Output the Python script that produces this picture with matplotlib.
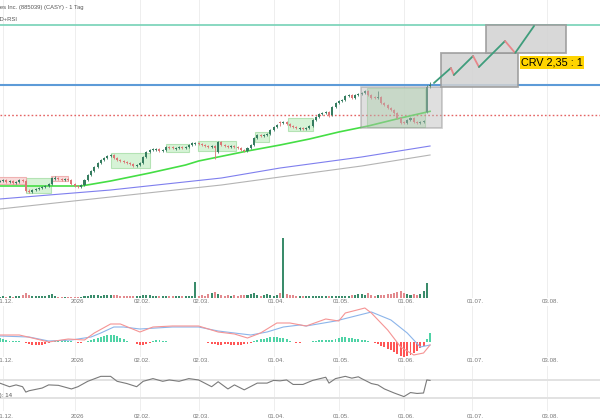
import numpy as np
import matplotlib.pyplot as plt
from matplotlib.patches import Rectangle

plt.rcParams['font.family'] = ['Liberation Sans', 'DejaVu Sans']

# ======================
# DATA
# ======================

first_day = -1  # trading-day index of first candle (0 = 01.12.2025)

opens = [
    591.0, 591.4, 592.0, 590.8, 591.4, 590.2, 590.8, 592.0, 591.4, 585.4,
    584.8, 586.0, 586.6, 587.2, 587.8, 588.4, 589.6, 592.6, 593.2, 592.6,
    592.0, 592.6, 592.0, 589.6, 588.4, 587.8, 589.0, 592.0, 595.0, 597.4,
    599.8, 602.2, 604.0, 605.2, 606.4, 607.0, 605.2, 604.0, 603.4, 602.8,
    602.2, 601.6, 600.4, 601.0, 602.2, 605.8, 608.8, 610.0, 610.0, 610.6,
    609.4, 610.0, 611.8, 611.8, 610.6, 611.2, 611.8, 611.2, 611.8, 613.0,
    613.6, 614.2, 613.6, 613.0, 612.4, 611.8, 612.4, 608.8, 614.8, 613.0,
    612.4, 611.8, 612.4, 611.8, 611.2, 610.0, 609.4, 611.2, 613.0, 617.2,
    619.0, 618.4, 619.0, 619.6, 622.0, 623.8, 626.8, 626.2, 626.8, 625.6,
    624.4, 623.8, 622.6, 623.2, 622.6, 623.2, 624.4, 628.0, 629.8, 631.6,
    632.2, 632.8, 631.0, 635.8, 638.2, 639.4, 640.0, 642.4, 643.0, 641.2,
    643.0, 643.6, 644.2, 645.4, 643.0, 641.8, 641.2, 641.8, 638.2, 637.0,
    635.2, 634.0, 632.2, 629.2, 626.8, 626.2, 628.0, 629.2, 626.8, 626.2,
    626.8, 632.8, 648.4]
highs = [
    592.2, 592.8, 592.6, 592.0, 592.0, 591.6, 592.8, 592.6, 592.2, 586.6,
    586.4, 587.2, 587.8, 588.4, 589.0, 590.2, 594.0, 594.2, 594.0, 593.2,
    593.4, 593.2, 592.6, 590.4, 589.2, 589.8, 592.6, 595.6, 598.0, 600.4,
    602.8, 604.6, 605.8, 607.0, 607.6, 607.4, 605.8, 604.6, 604.0, 603.4,
    602.8, 602.2, 601.6, 602.8, 606.4, 609.4, 610.6, 611.2, 611.2, 611.2,
    610.6, 612.4, 612.4, 612.4, 611.8, 612.4, 612.4, 612.4, 613.6, 614.8,
    614.8, 614.8, 614.2, 613.6, 613.0, 613.0, 613.0, 615.4, 615.4, 613.6,
    613.0, 613.0, 613.0, 612.4, 611.8, 610.6, 611.8, 613.6, 617.8, 619.6,
    619.6, 619.6, 620.2, 622.6, 624.4, 625.6, 627.2, 627.4, 627.4, 626.2,
    625.0, 624.4, 623.8, 623.8, 623.8, 625.0, 628.6, 630.4, 632.2, 632.8,
    633.4, 633.4, 636.4, 638.8, 640.0, 640.6, 643.0, 643.6, 643.6, 643.6,
    644.2, 644.8, 646.0, 646.0, 643.6, 642.4, 645.4, 642.4, 638.8, 637.6,
    635.8, 634.6, 632.8, 629.8, 627.4, 628.6, 629.8, 629.8, 627.4, 627.4,
    628.0, 649.0, 650.8]
lows = [
    590.6, 590.8, 590.2, 590.2, 589.6, 589.6, 590.2, 590.8, 584.8, 584.2,
    584.2, 585.4, 586.0, 586.6, 587.2, 587.8, 589.0, 592.0, 592.0, 591.4,
    591.4, 591.4, 589.0, 587.8, 587.2, 587.2, 588.4, 591.4, 594.4, 596.8,
    599.2, 601.6, 603.4, 604.6, 605.8, 604.6, 603.4, 602.8, 602.2, 601.6,
    601.0, 599.8, 599.8, 600.4, 601.6, 605.2, 608.2, 609.4, 609.4, 608.8,
    608.8, 609.4, 610.6, 610.6, 610.0, 610.6, 610.6, 610.6, 611.2, 612.4,
    613.0, 613.0, 612.4, 611.8, 611.2, 611.2, 604.6, 608.2, 612.4, 611.8,
    611.2, 611.2, 611.2, 610.6, 609.4, 608.8, 608.8, 610.6, 612.4, 616.6,
    617.8, 617.8, 618.4, 619.0, 621.4, 623.2, 624.4, 625.6, 625.0, 623.8,
    623.2, 622.6, 622.0, 622.0, 622.0, 622.6, 623.8, 627.4, 629.2, 631.0,
    631.6, 629.8, 630.4, 635.2, 637.6, 638.8, 639.4, 641.8, 640.6, 640.6,
    642.4, 643.0, 643.6, 642.4, 640.6, 640.6, 640.6, 637.6, 636.4, 634.6,
    633.4, 631.6, 628.6, 625.6, 625.6, 625.6, 627.4, 626.2, 625.6, 625.6,
    626.2, 632.2, 647.2]
closes = [
    591.4, 592.0, 590.8, 591.4, 590.2, 590.8, 592.0, 591.4, 585.4, 584.8,
    586.0, 586.6, 587.2, 587.8, 588.4, 589.6, 593.2, 593.2, 592.6, 592.0,
    592.6, 592.0, 589.6, 588.4, 587.8, 589.0, 592.0, 595.0, 597.4, 599.8,
    602.2, 604.0, 605.2, 606.4, 607.0, 605.2, 604.0, 603.4, 602.8, 602.2,
    601.6, 600.4, 601.0, 602.2, 605.8, 608.8, 610.0, 610.6, 610.6, 609.4,
    610.0, 611.8, 611.2, 611.2, 611.2, 611.8, 611.2, 611.8, 613.0, 614.2,
    614.2, 613.6, 613.0, 612.4, 611.8, 612.4, 611.2, 614.8, 613.0, 612.4,
    611.8, 612.4, 611.8, 611.2, 610.0, 609.4, 611.2, 613.0, 617.2, 619.0,
    618.4, 619.0, 619.6, 622.0, 623.8, 625.0, 626.2, 626.8, 625.6, 624.4,
    623.8, 623.2, 623.2, 622.6, 623.2, 624.4, 628.0, 629.8, 631.6, 632.2,
    632.8, 631.0, 635.8, 638.2, 639.4, 640.0, 642.4, 643.0, 641.2, 643.0,
    643.6, 644.2, 645.4, 643.0, 641.2, 641.2, 641.8, 638.2, 637.0, 635.2,
    634.0, 632.2, 629.2, 626.2, 626.2, 628.0, 629.2, 626.8, 626.2, 626.8,
    627.4, 647.8, 649.0]
volume = [  # thousand shares
    225, 300, 225, 300, 225, 375, 300, 450, 825, 450,
    375, 375, 300, 375, 300, 450, 600, 300, 225, 225,
    150, 225, 225, 225, 150, 225, 300, 300, 450, 450,
    450, 375, 450, 525, 450, 450, 450, 375, 300, 300,
    300, 300, 375, 300, 450, 525, 450, 375, 300, 375,
    300, 300, 375, 300, 300, 375, 300, 300, 375, 300,
    2475, 375, 450, 375, 600, 750, 975, 600, 450, 375,
    450, 375, 450, 375, 525, 450, 450, 600, 750, 450,
    375, 525, 600, 450, 375, 450, 750, 9000, 600, 525,
    450, 375, 300, 300, 300, 300, 375, 300, 300, 300,
    300, 375, 300, 375, 375, 300, 375, 375, 450, 525,
    600, 600, 450, 750, 450, 375, 525, 450, 525, 600,
    675, 750, 900, 1050, 750, 600, 525, 600, 525, 600,
    1050, 2250, 75]
macd_hist = [
    2.0, 1.75, 1.0, 0.75, 0.75, 0.75, 0.5, 0.25, -0.5, -1.0,
    -1.5, -1.5, -1.5, -1.25, -1.0, -0.5, 0.25, 0.5, 0.75, 1.0,
    1.0, 0.75, 0.5, 0.25, -0.25, -0.25, 0.25, 0.5, 1.0, 1.5,
    2.0, 2.5, 3.0, 3.5, 3.75, 3.5, 3.0, 2.25, 1.5, 0.75,
    0.25, 0.0, -1.0, -1.5, -1.5, -1.0, -0.5, 0.5, 1.0, 1.0,
    0.75, 0.5, 0.25, 0.25, 0.15, 0.15, 0.15, 0.15, 0.15, 0.15,
    0.15, 0.15, 0.15, 0.1, -0.25, -0.75, -1.0, -1.25, -1.25, -1.0,
    -1.0, -1.25, -1.25, -1.25, -1.25, -1.0, -0.75, -0.5, 0.5, 1.0,
    1.5, 1.75, 2.25, 2.5, 2.75, 2.5, 2.25, 2.0, 1.5, 0.5,
    -0.15, -0.25, -0.25, -0.15, -0.15, 0.15, 0.5, 0.75, 1.0, 1.25,
    1.25, 1.0, 1.25, 1.75, 2.25, 2.5, 2.5, 2.25, 2.0, 1.75,
    1.5, 1.25, 1.0, 0.75, 0.25, -0.5, -1.0, -1.75, -2.5, -3.25,
    -4.0, -5.0, -6.0, -7.0, -7.5, -7.0, -6.5, -5.5, -4.25, -3.0,
    -2.0, 1.5, 4.5]

assert len(opens) == len(highs) == len(lows) == len(closes) == len(volume) == len(macd_hist)

# moving averages (read at a few days)
sma50_days = [-1, 24, 33, 45, 56, 60, 75, 85, 94, 103, 112, 122, 131]
sma50 = [588.4, 588.4, 591.4, 596.2, 601.0, 603.4, 609.4, 613.0, 616.6, 620.8, 624.4, 629.2, 633.2]
sma100_days = [-1, 33, 67, 85, 110, 131]
sma100 = [580.6, 586.0, 593.2, 599.2, 605.8, 612.4]
sma200_days = [-1, 33, 67, 85, 110, 131]
sma200 = [574.6, 581.8, 589.0, 593.8, 600.4, 607.0]

macd_days = [-1, 5, 9, 14, 20, 25, 28, 33, 36, 42, 46, 52, 60, 66, 71, 75, 79, 84, 88, 93,
             99, 103, 105, 111, 113, 118, 122, 126, 129, 131]
macd_line = [3.5, 3.5, 2.0, 0.0, 1.5, 1.0, 4.5, 9.0, 9.0, 5.0, 7.5, 8.0, 8.0, 5.0, 4.0, 2.0,
             4.5, 9.5, 9.5, 8.0, 11.5, 10.5, 14.5, 17.0, 14.5, 6.0, -2.5, -6.5, -5.5, -1.5]
signal_days = [-1, 8, 14, 21, 27, 30, 34, 37, 42, 47, 52, 60, 66, 71, 76, 81, 86, 91, 93, 102,
               113, 119, 124, 128, 131]
signal_line = [3.0, 2.5, 0.5, 1.0, 2.5, 4.5, 7.5, 7.5, 6.5, 7.0, 7.5, 7.5, 5.5, 4.5, 3.5, 5.0,
               7.5, 8.5, 8.0, 10.5, 15.0, 11.0, 4.5, -2.5, -1.5]

rsi_days = [-1, 2, 4, 6, 7, 8, 12, 14, 17, 21, 23, 26, 30, 33, 35, 38, 41, 43, 46, 49, 51, 54,
            57, 60, 64, 66, 69, 71, 74, 78, 81, 83, 85, 87, 89, 92, 95, 99, 100, 102, 105, 107,
            109, 110, 113, 115, 117, 120, 123, 125, 127, 129, 130, 131]
rsi = [62, 54, 58, 54, 42, 45, 51, 58, 57, 49, 54, 66, 77, 77, 66, 61, 54, 66, 72, 66, 69, 66,
       72, 69, 54, 65, 49, 58, 47, 62, 62, 68, 67, 69, 59, 59, 68, 75, 62, 72, 77, 73,
       76, 72, 61, 58, 49, 40, 32, 41, 39, 40, 69, 68]

tick_days = [0, 22, 42, 60, 83, 103, 123, 144, 167]
tick_labels = ['01.12.', '2026', '02.02.', '02.03.', '01.04.', '01.05.', '01.06.', '01.07.', '03.08.']

target_level = 685.0
breakout_level = 649.0
stop_level = 631.3

# boxes: (day from, day to, price low, price high)
green_boxes = [(7.05, 14.7, 584.2, 593.2), (33.1, 45.1, 599.2, 608.2), (50.0, 57.0, 608.8, 613.6),
               (59.8, 71.5, 609.4, 615.4), (77.3, 81.6, 614.8, 620.8), (87.4, 95.1, 621.4, 629.2),
               (111.7, 129.4, 623.8, 647.5)]
red_boxes = [(-2.0, 7.05, 589.6, 593.8), (14.7, 19.9, 591.4, 594.4)]
entry_box = (109.8, 134.7, 623.2, 647.8)
target_boxes = [(134.4, 158.0, 647.8, 668.2), (148.2, 172.7, 668.2, 685.0)]

path_days = [132.2, 137.4, 138.3, 144.2, 146.0, 154.0, 157.1, 162.9]
path_prices = [650.2, 659.2, 655.0, 666.4, 659.8, 675.4, 668.2, 684.4]

# ======================
# FIGURE
# ======================

W, H = 600, 420
fig = plt.figure(figsize=(6, 4.2), dpi=100)


def panel(top, bottom):
    return fig.add_axes([0, 1 - bottom / H, 1, (bottom - top) / H])


ax_p = panel(0, 298)
ax_v = ax_p.twinx()
ax_m = panel(306, 357)
ax_r = panel(366, 411)

xlim = (-0.92, 183.13)
GREEN = '#367d60'
RED = '#dc7676'

for ax in (ax_p, ax_v, ax_m, ax_r):
    ax.set_xlim(*xlim)
    for s in ax.spines.values():
        s.set_visible(False)
    ax.set_yticks([])

# labels sit a little right of their grid line
label_offset = 0.8
for ax in (ax_p, ax_m, ax_r):
    for d in tick_days:
        ax.axvline(d, color='#eeeeee', lw=0.7, zorder=0)
    ax.set_xticks([d + label_offset for d in tick_days])
    ax.set_xticklabels(tick_labels)
    ax.tick_params(axis='x', length=0, labelsize=4.4, labelcolor='#777777')
ax_p.tick_params(axis='x', pad=1.0)
ax_m.tick_params(axis='x', pad=0.6)
ax_r.tick_params(axis='x', pad=2.2)

# ---------- price ----------
x = np.arange(len(closes)) + first_day
o = np.array(opens)
c = np.array(closes)
up = c >= o
col = np.where(up, GREEN, RED)

ax_p.set_ylim(521.2, 700)

for (d0, d1, p0, p1) in green_boxes:
    ax_p.add_patch(Rectangle((d0, p0), d1 - d0, p1 - p0, fc='#c9efc9', ec='#a3dca3',
                             lw=0.8, alpha=0.75, zorder=1))
for (d0, d1, p0, p1) in red_boxes:
    ax_p.add_patch(Rectangle((d0, p0), d1 - d0, p1 - p0, fc='#f8d2d2', ec='#eca4a4',
                             lw=0.8, alpha=0.8, zorder=1))

ax_p.axhline(target_level, color='#76d2b6', lw=1.2, zorder=2)
ax_p.axhline(breakout_level, color='#5d9bd8', lw=1.5, zorder=2)
ax_p.axhline(stop_level, color='#e46464', lw=1.0, ls=(0, (1.2, 1.6)), zorder=2)

ax_p.plot(sma200_days, sma200, color='#b4b4b4', lw=0.8, zorder=2)
ax_p.plot(sma100_days, sma100, color='#7f7fee', lw=0.8, zorder=2)
ax_p.plot(sma50_days, sma50, color='#45de45', lw=1.2, zorder=2)

ax_p.vlines(x, lows, highs, color=col, lw=0.6, zorder=3)
body = np.maximum(np.abs(c - o), 0.35)
ax_p.bar(x, body, bottom=np.minimum(o, c), width=0.62, color=col, lw=0, zorder=3)

d0, d1, p0, p1 = entry_box
ax_p.add_patch(Rectangle((d0, p0), d1 - d0, p1 - p0, fc='#b9b9b9', ec='#8c8c8c',
                         lw=1.2, alpha=0.45, zorder=4))
for (d0, d1, p0, p1) in target_boxes:
    ax_p.add_patch(Rectangle((d0, p0), d1 - d0, p1 - p0, fc='#d2d2d2', ec='#9a9a9a',
                             lw=1.3, alpha=0.85, zorder=4))

for i in range(len(path_days) - 1):
    seg_col = '#3f9d7c' if path_prices[i + 1] > path_prices[i] else '#e9868a'
    ax_p.plot(path_days[i:i + 2], path_prices[i:i + 2], color=seg_col, lw=1.3,
              zorder=5, solid_capstyle='round')

ax_p.text(158.9, 662.6, 'CRV 2,35 : 1', fontsize=7.8, color='black', ha='left',
          va='center', zorder=6,
          bbox=dict(boxstyle='square,pad=0.12', fc='#ffd400', ec='none'))

# ---------- volume ----------
ax_v.set_ylim(0, 298 * 150)
ax_v.bar(x, volume, width=0.62, color=np.where(up, '#3a8c6b', '#e28a8e'), lw=0)
ax_v.set_yticks([])

# ---------- MACD ----------
ax_m.set_ylim(-7.5, 18)
h = np.array(macd_hist)
ax_m.bar(x, h, width=0.6, color=np.where(h >= 0, '#4fd3a6', '#ff5656'), lw=0)
ax_m.plot(signal_days, signal_line, color='#8cb5ea', lw=0.8)
ax_m.plot(macd_days, macd_line, color='#f59494', lw=0.8)

# ---------- RSI ----------
ax_r.set_ylim(0, 100)
ax_r.axhline(70, color='#e2e2e2', lw=1.4)
ax_r.axhline(30, color='#e2e2e2', lw=1.4)
ax_r.plot(rsi_days, rsi, color='#7a7a7a', lw=0.8)

# ---------- texts ----------
fig.text(83 / W, 1 - 8 / H, "Casey's General Stores Inc. (885039) (CASY) - 1 Tag",
         ha='right', va='center', fontsize=4.2, color='#555555')
fig.text(17 / W, 1 - 19 / H, 'SMA 50/100/200, MACD+RSI', ha='right', va='center',
         fontsize=4.2, color='#555555')
fig.text(12 / W, 1 - 396 / H, 'RSI (Close): 14', ha='right', va='center',
         fontsize=4.4, color='#555555')

plt.savefig('out.png', dpi=100)
plt.close()
